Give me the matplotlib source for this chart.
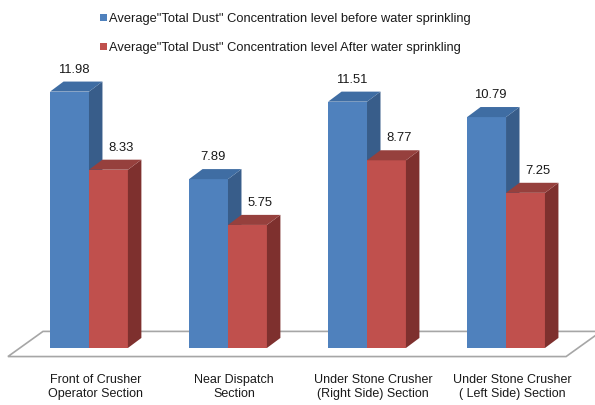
import numpy as np
import matplotlib.pyplot as plt
from matplotlib.patches import Polygon

plt.rcParams['font.family'] = ['Liberation Sans', 'DejaVu Sans']

categories = ['Front of Crusher\nOperator Section', 'Near Dispatch\nSection',
              'Under Stone Crusher\n(Right Side) Section', 'Under Stone Crusher\n( Left Side) Section']
before = [11.98, 7.89, 11.51, 10.79]
after = [8.33, 5.75, 8.77, 7.25]
series_names = ['Average"Total Dust" Concentration level before water sprinkling',
                'Average"Total Dust" Concentration level After water sprinkling']

# front, side, top colours for each series
colors = [('#4F81BD', '#385D8A', '#3F6DA3'),
          ('#C0504D', '#7E302E', '#96403D')]

width = 0.28
dx, dy = 0.097, 0.47  # depth of the 3d effect in data units

fig = plt.figure(figsize=(5.95, 4.06), dpi=100)
ax = fig.add_axes([0, 0, 1, 1])
ax.set_xlim(-0.640, 3.640)
ax.set_ylim(-2.664, 16.308)
ax.axis('off')

x = np.arange(len(categories))

# floor
floor = Polygon([(-0.583, -0.40), (3.432, -0.40), (3.432 + 2.6 * dx, -0.40 + 2.5 * dy),
                 (-0.583 + 2.6 * dx, -0.40 + 2.5 * dy)],
                closed=True, facecolor='white', edgecolor='#A6A6A6', lw=1.2, zorder=1)
ax.add_patch(floor)


def draw_bars(xs, values, cols, label_off):
    front, side, top = cols
    ax.bar(xs, values, width, align='edge', color=front, zorder=3)
    for xi, v in zip(xs, values):
        ax.add_patch(Polygon([(xi + width, 0), (xi + width + dx, dy), (xi + width + dx, v + dy),
                              (xi + width, v)], closed=True, facecolor=side, lw=0, zorder=3))
        ax.add_patch(Polygon([(xi, v), (xi + width, v), (xi + width + dx, v + dy),
                              (xi + dx, v + dy)], closed=True, facecolor=top, lw=0, zorder=3))
        ax.text(xi + width / 2 + label_off, v + 1.07, '{:.2f}'.format(v), ha='center', va='center',
                fontsize=9.4, color='#1a1a1a', zorder=4)


draw_bars(x - width, before, colors[0], 0.03)
draw_bars(x, after, colors[1], 0.09)

for xi, cat in zip(x, categories):
    ax.text(xi + 0.045, -1.17, cat, ha='center', va='top', fontsize=9,
            color='#1a1a1a', linespacing=1.25)

# legend
for i, name in enumerate(series_names):
    yl = 15.44 - i * 1.37
    ax.add_patch(Polygon([(0.079, yl - 0.164), (0.129, yl - 0.164), (0.129, yl + 0.164), (0.079, yl + 0.164)],
                         closed=True, facecolor=colors[i][0], lw=0, zorder=3))
    ax.text(0.144, yl, name, ha='left', va='center', fontsize=9.3, color='#1a1a1a')

fig.savefig('out.png', dpi=100)
